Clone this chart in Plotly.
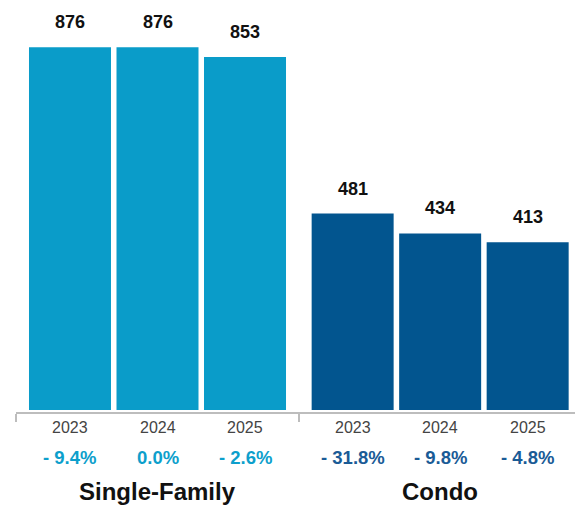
import plotly.graph_objects as go

# Two property types, three years each, with year-over-year change
groups = ["Single-Family", "Condo"]
years = ["2023", "2024", "2025"]
single_family = [876, 876, 853]
condo = [481, 434, 413]
single_family_change = ["- 9.4%", "0.0%", "- 2.6%"]
condo_change = ["- 31.8%", "- 9.8%", "- 4.8%"]

LIGHT = "#0a9cc9"
DARK = "#02558f"
LIGHT_TXT = "#0d9fcc"
DARK_TXT = "#1a5b96"
FONT = "Liberation Sans, Arial, sans-serif"

# bar slots along a numeric axis, with a wider gap between the two groups
sf_pos = [0, 1, 2]
gap = 1.23
co_pos = [p + 2 + gap for p in sf_pos]
bar_w = 0.937

fig = go.Figure()
fig.add_trace(go.Bar(x=sf_pos, y=single_family, width=bar_w,
                     marker=dict(color=LIGHT, line=dict(width=0)),
                     hoverinfo="skip"))
fig.add_trace(go.Bar(x=co_pos, y=condo, width=bar_w,
                     marker=dict(color=DARK, line=dict(width=0)),
                     hoverinfo="skip"))

ann = []
for pos, vals, chg, col in [(sf_pos, single_family, single_family_change, LIGHT_TXT),
                            (co_pos, condo, condo_change, DARK_TXT)]:
    for p, v, c, yr in zip(pos, vals, chg, years):
        # value above each bar
        ann.append(dict(x=p, y=v, xref="x", yref="y", text=f"<b>{v}</b>",
                        showarrow=False, yanchor="middle", yshift=25,
                        font=dict(family=FONT, size=18, color="#111111")))
        # year label under the axis
        ann.append(dict(x=p, y=0, xref="x", yref="paper", text=yr,
                        showarrow=False, yanchor="middle", yshift=-14,
                        font=dict(family=FONT, size=16, color="#444444")))
        # year-over-year change
        ann.append(dict(x=p, y=0, xref="x", yref="paper", text=f"<b>{c}</b>",
                        showarrow=False, yanchor="middle", yshift=-44,
                        font=dict(family=FONT, size=18.5, color=col)))

for name, pos in zip(groups, [sf_pos, co_pos]):
    ann.append(dict(x=pos[1], y=0, xref="x", yref="paper", text=f"<b>{name}</b>",
                    showarrow=False, yanchor="middle", yshift=-78,
                    font=dict(family=FONT, size=24, color="#111111")))

x_lo, x_hi = -0.617, 5.771
divider = (sf_pos[-1] + co_pos[0]) / 2

fig.update_layout(
    width=575, height=506,
    margin=dict(l=16, r=0, t=0, b=93),
    paper_bgcolor="white", plot_bgcolor="white",
    showlegend=False,
    annotations=ann,
    xaxis=dict(range=[x_lo, x_hi], showgrid=False, zeroline=False,
               anchor="free", position=0,
               showline=True, linecolor="#bdbdbd", linewidth=2,
               tickmode="array", tickvals=[x_lo, divider], ticktext=["", ""],
               ticks="outside", ticklen=8, tickwidth=2, tickcolor="#bdbdbd",
               fixedrange=True),
    yaxis=dict(domain=[0.00726, 1], range=[14.7, 988.1], visible=False,
               showgrid=False, zeroline=False, fixedrange=True),
)

fig.write_html("out.html")
